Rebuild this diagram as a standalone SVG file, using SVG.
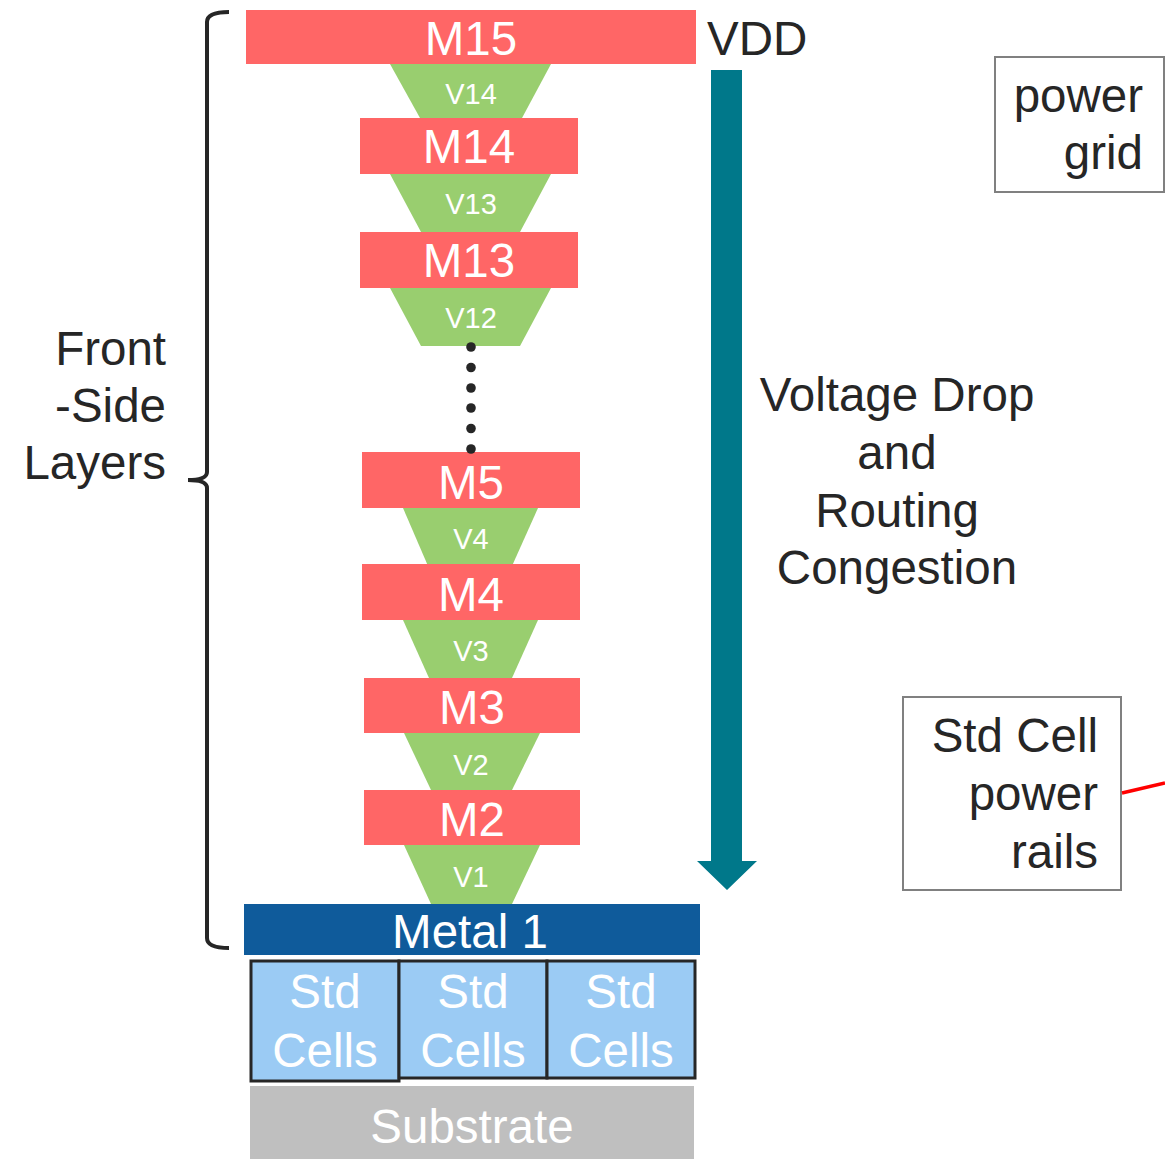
<svg xmlns="http://www.w3.org/2000/svg" width="1165" height="1159" viewBox="0 0 1165 1159">
<style>
text{font-family:"Liberation Sans",Arial,sans-serif}
.m{fill:#FF6666}
.v{fill:#99CE6F}
.wt{fill:#FFFFFF;text-anchor:middle;font-size:47.5px}
.vt{fill:#FFFFFF;text-anchor:middle;font-size:29px}
.dk{fill:#262626;font-size:47.5px}
.box{fill:#FFFFFF;stroke:#808080;stroke-width:2}
.cell{fill:#9BCBF4;stroke:#262626;stroke-width:3}
</style>
<rect width="1165" height="1159" fill="#FFFFFF"/>

<g id="bracket">
<path d="M229,12 Q207,12 207,22 L207,472 Q207,480 188,480 Q207,480 207,488 L207,938 Q207,948 229,948" fill="none" stroke="#262626" stroke-width="4"/>
</g>
<g id="front-side-label">
<text class="dk" text-anchor="end" x="166" y="365">Front</text>
<text class="dk" text-anchor="end" x="166" y="422">-Side</text>
<text class="dk" text-anchor="end" x="166" y="479">Layers</text>
</g>

<g id="V14"><polygon class="v" points="390,64 551,64 522,118 420,118"/><text class="vt" x="471" y="104">V14</text></g>
<g id="V13"><polygon class="v" points="390,174 551,174 520,232 421,232"/><text class="vt" x="471" y="214">V13</text></g>
<g id="V12"><polygon class="v" points="390,288 551,288 520,346 421,346"/><text class="vt" x="471" y="328">V12</text></g>
<g id="V4"><polygon class="v" points="403,508 538,508 512,566 428,566"/><text class="vt" x="471" y="549">V4</text></g>
<g id="V3"><polygon class="v" points="403,620 538,620 512,678 429,678"/><text class="vt" x="471" y="661">V3</text></g>
<g id="V2"><polygon class="v" points="404,733 540,733 512,790 431,790"/><text class="vt" x="471" y="775">V2</text></g>
<g id="V1"><polygon class="v" points="404,845 540,845 512,904 431,904"/><text class="vt" x="471" y="887">V1</text></g>

<g id="M15"><rect class="m" x="246" y="10" width="450" height="54"/><text class="wt" x="471" y="55">M15</text></g>
<g id="M14"><rect class="m" x="360" y="118" width="218" height="56"/><text class="wt" x="469" y="163">M14</text></g>
<g id="M13"><rect class="m" x="360" y="232" width="218" height="56"/><text class="wt" x="469" y="277">M13</text></g>
<g id="M5"><rect class="m" x="362" y="452" width="218" height="56"/><text class="wt" x="471" y="499">M5</text></g>
<g id="M4"><rect class="m" x="362" y="564" width="218" height="56"/><text class="wt" x="471" y="611">M4</text></g>
<g id="M3"><rect class="m" x="364" y="678" width="216" height="55"/><text class="wt" x="472" y="724">M3</text></g>
<g id="M2"><rect class="m" x="364" y="790" width="216" height="55"/><text class="wt" x="472" y="836">M2</text></g>

<g id="dots" fill="#262626">
<circle cx="471" cy="347" r="4.8"/><circle cx="471" cy="367.5" r="4.8"/><circle cx="471" cy="388" r="4.8"/>
<circle cx="471" cy="408" r="4.8"/><circle cx="471" cy="428.5" r="4.8"/><circle cx="471" cy="449" r="4.8"/>
</g>

<g id="metal1"><rect x="244" y="904" width="456" height="51" fill="#0F5B9B"/><text class="wt" x="470" y="948">Metal 1</text></g>

<g id="stdcells1"><rect class="cell" x="251" y="961" width="148" height="120"/><text class="wt" x="325" y="1008">Std</text><text class="wt" x="325" y="1067">Cells</text></g>
<g id="stdcells2"><rect class="cell" x="399" y="961" width="148" height="117"/><text class="wt" x="473" y="1008">Std</text><text class="wt" x="473" y="1067">Cells</text></g>
<g id="stdcells3"><rect class="cell" x="547" y="961" width="148" height="117"/><text class="wt" x="621" y="1008">Std</text><text class="wt" x="621" y="1067">Cells</text></g>

<g id="substrate"><rect x="250" y="1086" width="444" height="73" fill="#BFBFBF"/><text class="wt" x="472" y="1143">Substrate</text></g>

<g id="vdd"><text class="dk" x="707" y="55">VDD</text></g>

<g id="arrow"><polygon points="711,70 742,70 742,861 757,861 727,890 697,861 711,861" fill="#00788A"/></g>

<g id="voltage-drop-label">
<text class="dk" text-anchor="middle" x="897" y="411">Voltage Drop</text>
<text class="dk" text-anchor="middle" x="897" y="469">and</text>
<text class="dk" text-anchor="middle" x="897" y="527">Routing</text>
<text class="dk" text-anchor="middle" x="897" y="584">Congestion</text>
</g>

<g id="power-grid"><rect class="box" x="995" y="57" width="169" height="135"/>
<text class="dk" text-anchor="end" x="1143" y="112">power</text>
<text class="dk" text-anchor="end" x="1143" y="169">grid</text></g>

<g id="std-cell-power-rails"><rect class="box" x="903" y="697" width="218" height="193"/>
<text class="dk" text-anchor="end" x="1098" y="752">Std Cell</text>
<text class="dk" text-anchor="end" x="1098" y="810">power</text>
<text class="dk" text-anchor="end" x="1098" y="868">rails</text></g>

<g id="connectors">
<line x1="1122" y1="793" x2="1165" y2="783" stroke="#FF0000" stroke-width="3.5"/>
</g>
</svg>
